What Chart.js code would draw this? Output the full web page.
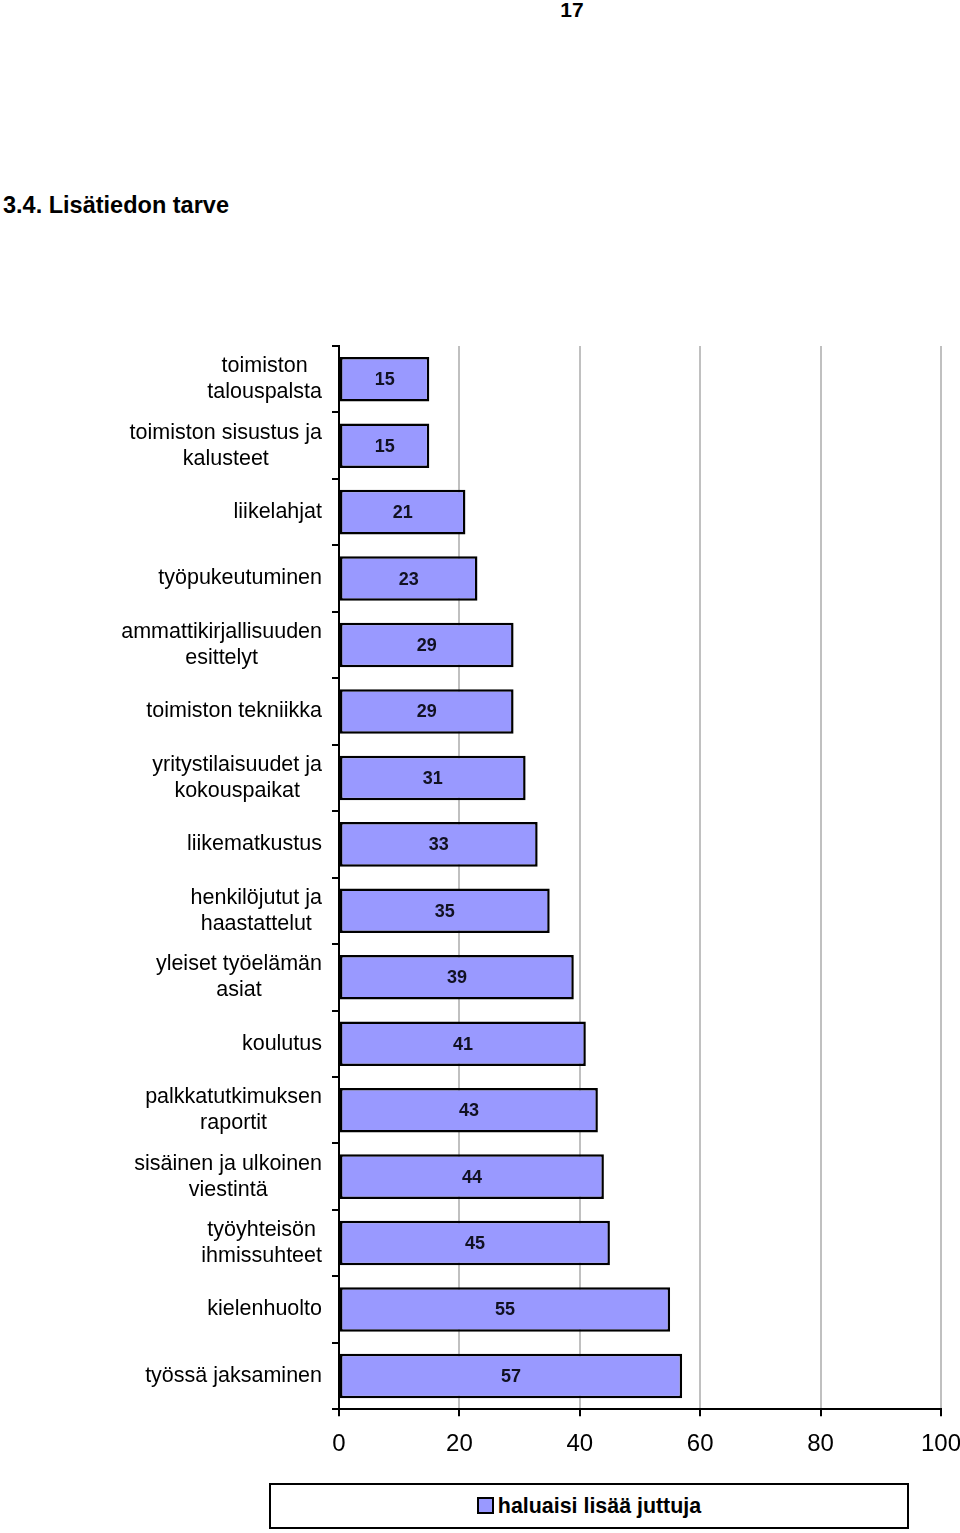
<!DOCTYPE html>
<html>
<head>
<meta charset="utf-8">
<script src="https://cdn.jsdelivr.net/npm/chart.js@4/dist/chart.umd.min.js"></script>
<style>
  html, body { margin: 0; padding: 0; background: #fff; }
  body { width: 960px; height: 1533px; position: relative; overflow: hidden; font-family: "Liberation Sans", Arial, sans-serif; }
  #page { position: absolute; left: 0; width: 1144px; top: -2px; text-align: center; font-weight: bold; font-size: 21px; }
  #title { position: absolute; left: 3px; top: 192px; font-weight: bold; font-size: 23.5px; }
  #wrap { position: absolute; left: 0; top: 330px; width: 960px; height: 1150px; }
  #legend { position: absolute; left: 269px; top: 1483px; width: 636px; height: 42px; border: 2px solid #000; text-align: center; font-weight: bold; font-size: 21.4px; line-height: 42px; }
  #legend .sw { display: inline-block; width: 13px; height: 13px; background: #9999ff; border: 2px solid #000; vertical-align: -1px; margin-right: 4px; }
</style>
</head>
<body>
<div id="page">17</div>
<div id="title">3.4. Lisätiedon tarve</div>
<div id="wrap"><canvas id="c" width="960" height="1150"></canvas></div>
<div id="legend"><span class="sw"></span>haluaisi lisää juttuja</div>
<script>
const categories = [
  ["toimiston", "talouspalsta"],
  ["toimiston sisustus ja", "kalusteet"],
  ["liikelahjat"],
  ["työpukeutuminen"],
  ["ammattikirjallisuuden", "esittelyt"],
  ["toimiston tekniikka"],
  ["yritystilaisuudet ja", "kokouspaikat"],
  ["liikematkustus"],
  ["henkilöjutut ja", "haastattelut"],
  ["yleiset työelämän", "asiat"],
  ["koulutus"],
  ["palkkatutkimuksen", "raportit"],
  ["sisäinen ja ulkoinen", "viestintä"],
  ["työyhteisön", "ihmissuhteet"],
  ["kielenhuolto"],
  ["työssä jaksaminen"]
];
const values = [15, 15, 21, 23, 29, 29, 31, 33, 35, 39, 41, 43, 44, 45, 55, 57];
const seriesName = "haluaisi lisää juttuja";
const xTicks = [0, 20, 40, 60, 80, 100];

const FONT = '"Liberation Sans", Arial, sans-serif';

const catLabelPlugin = {
  id: 'catLabels',
  afterDraw(chart) {
    const ctx = chart.ctx;
    const ys = chart.scales.y;
    const xRight = ys.right - 17;
    ctx.save();
    ctx.font = '21.5px ' + FONT;
    ctx.fillStyle = '#000';
    ctx.textAlign = 'center';
    ctx.textBaseline = 'middle';
    const lh = 26;
    chart.data.labels.forEach((lines, i) => {
      const y = ys.getPixelForValue(i);
      const w = Math.max(...lines.map(l => ctx.measureText(l).width));
      const cx = xRight - w / 2;
      const y0 = y - (lines.length - 1) * lh / 2;
      lines.forEach((l, k) => ctx.fillText(l, cx, y0 + k * lh));
    });
    ctx.restore();
  }
};

const valueLabelPlugin = {
  id: 'valueLabels',
  afterDatasetsDraw(chart) {
    const ctx = chart.ctx;
    const meta = chart.getDatasetMeta(0);
    ctx.save();
    ctx.font = 'bold 18px ' + FONT;
    ctx.fillStyle = '#111122';
    ctx.textAlign = 'center';
    ctx.textBaseline = 'middle';
    meta.data.forEach((bar, i) => {
      const p = bar.getProps(['x', 'y', 'base'], true);
      ctx.fillText(String(chart.data.datasets[0].data[i]), (p.x + p.base) / 2, p.y + 1);
    });
    ctx.restore();
  }
};

new Chart(document.getElementById('c'), {
  type: 'bar',
  data: {
    labels: categories,
    datasets: [{
      label: seriesName,
      data: values,
      backgroundColor: '#9999ff',
      borderColor: '#000',
      borderWidth: 2.5,
      borderSkipped: false,
      categoryPercentage: 1,
      barPercentage: 0.67
    }]
  },
  options: {
    indexAxis: 'y',
    responsive: false,
    animation: false,
    devicePixelRatio: 1,
    layout: { padding: { top: 16, right: 19, bottom: 7, left: 0 } },
    plugins: { legend: { display: false }, tooltip: { enabled: false } },
    scales: {
      x: {
        min: 0, max: 100,
        afterBuildTicks(scale) { scale.ticks = xTicks.map(v => ({ value: v })); },
        afterFit(scale) { scale.paddingLeft = 0; scale.paddingRight = 0; },
        grid: { color: '#c0c0c0', lineWidth: 2, tickColor: '#000', tickLength: 7, drawTicks: true },
        border: { color: '#000', width: 2 },
        ticks: { color: '#000', font: { family: FONT, size: 24 }, padding: 14, maxRotation: 0 }
      },
      y: {
        grid: { offset: true, drawOnChartArea: false, tickColor: '#000', tickLength: 7, lineWidth: 2 },
        border: { color: '#000', width: 2 },
        ticks: { display: false },
        afterFit(scale) { scale.width = 339; }
      }
    }
  },
  plugins: [catLabelPlugin, valueLabelPlugin]
});
</script>
</body>
</html>
